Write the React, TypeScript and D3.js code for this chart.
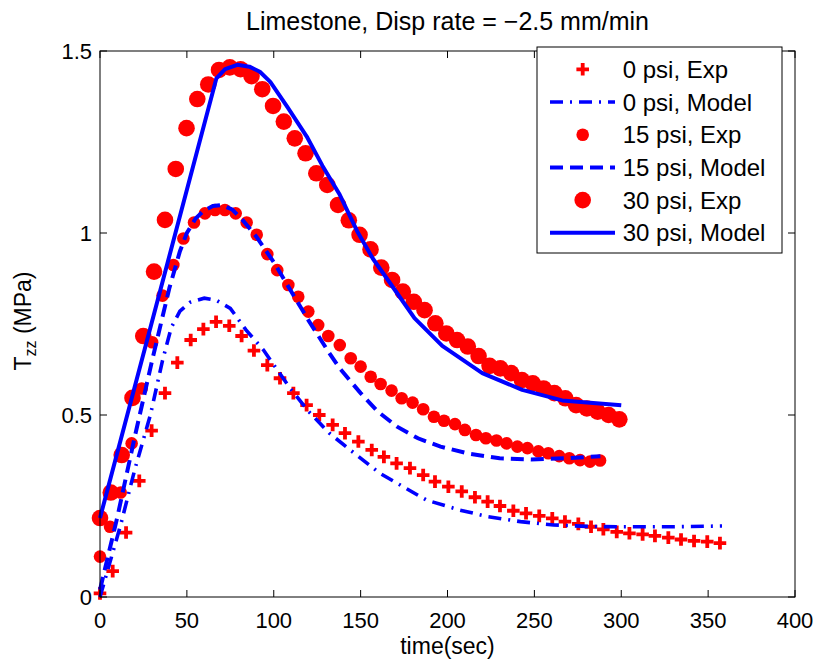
import React from "react";
import * as d3 from "d3";

const exp0T = [0,7.3,15,22.6,29.7,37.4,44.5,52.2,59.5,66.8,74.4,81.5,88.6,96.3,103.6,111.3,118.9,126.2,133.9,141,148.7,156.4,163.4,170.7,178.4,186,192.8,200.5,208.2,215.8,223.1,230.2,237.9,245.2,252.8,260.3,267.6,275.3,282.6,289.7,297.4,304.7,312.3,319.4,327.1,334.4,341.9,349.5,356.8];
const exp0Y = [0.01,0.071,0.177,0.319,0.457,0.56,0.644,0.706,0.736,0.756,0.745,0.717,0.677,0.637,0.601,0.56,0.527,0.5,0.473,0.45,0.427,0.404,0.385,0.367,0.354,0.335,0.317,0.303,0.29,0.274,0.262,0.25,0.237,0.23,0.223,0.216,0.207,0.201,0.193,0.186,0.179,0.175,0.172,0.168,0.163,0.158,0.154,0.152,0.148];

const model0T = [0,12,20,29,36,41,46,52,60,67,75,84,94,102,110,120,132,144,161,188,207,223,242,261,280,299,330,358];
const model0Y = [0,0.2,0.35,0.5,0.65,0.74,0.785,0.81,0.821,0.815,0.793,0.734,0.679,0.624,0.57,0.51,0.45,0.404,0.34,0.266,0.239,0.221,0.207,0.198,0.194,0.193,0.193,0.195];

const exp15T = [0,5.8,11.9,18.2,24,30,36,42.2,48,54.1,60.4,66.2,71.9,78.1,84.4,90.2,96.3,102,108.4,114.1,119.9,125.6,131.4,138,144.3,150,155.8,161.5,167.8,173.6,179.9,186,192.2,198,204.3,210,216.4,222.1,228.2,234,240.2,246,252.3,258,264.3,270.1,276.3,282,287.8];
const exp15Y = [0.111,0.193,0.287,0.422,0.573,0.7,0.828,0.912,0.985,1.029,1.054,1.063,1.063,1.054,1.029,0.995,0.942,0.898,0.857,0.825,0.784,0.747,0.717,0.692,0.656,0.633,0.605,0.585,0.567,0.546,0.534,0.516,0.495,0.484,0.475,0.459,0.445,0.436,0.43,0.422,0.413,0.409,0.4,0.395,0.387,0.381,0.376,0.372,0.375];

const model15T = [0,10,20,30,40,46,50,55,60,65,70,76,82,90,100,110,120,132,138,150,160,171,183,196,213,230,248,267,288];
const model15Y = [0.02,0.22,0.44,0.65,0.85,0.95,1.0,1.04,1.062,1.074,1.077,1.065,1.036,0.99,0.92,0.84,0.76,0.67,0.628,0.56,0.509,0.468,0.436,0.413,0.393,0.381,0.378,0.381,0.387];

const exp30T = [0,6.2,12.5,18.7,24.9,31.1,37.4,43.6,49.8,56,62.3,68.5,74.7,80.9,87.2,93.4,99.6,105.8,112.1,118.3,124.5,130.8,137,143.2,149.4,155.7,161.9,168.1,174.3,180.6,186.8,193,199.3,205.5,211.7,217.9,224.2,230.4,236.6,242.8,249.1,255.3,261.5,267.8,274,280.2,286.4,292.7,298.9];
const exp30Y = [0.217,0.287,0.39,0.547,0.717,0.894,1.036,1.176,1.288,1.368,1.408,1.448,1.455,1.45,1.431,1.395,1.349,1.306,1.26,1.219,1.164,1.132,1.077,1.035,0.995,0.955,0.905,0.871,0.839,0.811,0.788,0.752,0.724,0.706,0.688,0.662,0.635,0.628,0.615,0.596,0.587,0.573,0.56,0.546,0.527,0.518,0.509,0.5,0.488];

const model30T = [0,67,72,79,86,92,98,108,119,128,138,148,157,167,181,197,220,243,266,300];
const model30Y = [0.217,1.425,1.45,1.462,1.457,1.443,1.415,1.345,1.265,1.185,1.105,1.005,0.93,0.862,0.766,0.69,0.615,0.569,0.54,0.527];

const xTicks = [0, 50, 100, 150, 200, 250, 300, 350, 400];
const yTicks = [0, 0.5, 1, 1.5];
const yTickLabels = ["0", "0.5", "1", "1.5"];
const legendLabels = ["0 psi, Exp", "0 psi, Model", "15 psi, Exp", "15 psi, Model", "30 psi, Exp", "30 psi, Model"];

const W = 820, H = 663;
const L = 100, R = 795, T = 51, B = 597;
const FONT = "'Liberation Sans', Arial, Helvetica, sans-serif";
const RED = "#ff0000", BLUE = "#0000ff";

const x = d3.scaleLinear().domain([0, 400]).range([L, R]);
const y = d3.scaleLinear().domain([0, 1.5]).range([B, T]);

const zip = (a: number[], b: number[]) => a.map((v, i) => [v, b[i]] as [number, number]);
const line = d3.line<[number, number]>().x(d => x(d[0])).y(d => y(d[1]));

const DASH = "13,7";
const DASHDOT = "13,7,2,7";

function Cross({ cx, cy }: { cx: number; cy: number }) {
  const s = 6.3;
  return <path d={`M${cx - s},${cy}H${cx + s}M${cx},${cy - s}V${cy + s}`} stroke={RED} strokeWidth={3.8} fill="none" />;
}

export default function App() {
  const lw = 4;
  const legY0 = 69.3, legDy = 32.7;
  return (
    <svg width={W} height={H} style={{ position: "absolute", left: 0, top: 0, background: "#fff" }} fontFamily={FONT}>
      <rect x={0} y={0} width={W} height={H} fill="#fff" />
      <rect x={L} y={T} width={R - L} height={B - T} fill="#fff" stroke="none" />
      <g>
        {zip(exp0T, exp0Y).map((d, i) => <Cross key={"c" + i} cx={x(d[0])} cy={y(d[1])} />)}
        <path d={line(zip(model0T, model0Y)) || ""} fill="none" stroke={BLUE} strokeWidth={lw * 0.9} strokeDasharray={DASHDOT} />
        {zip(exp15T, exp15Y).map((d, i) => <circle key={"m" + i} cx={x(d[0])} cy={y(d[1])} r={6.3} fill={RED} />)}
        <path d={line(zip(model15T, model15Y)) || ""} fill="none" stroke={BLUE} strokeWidth={lw} strokeDasharray={DASH} />
        {zip(exp30T, exp30Y).map((d, i) => <circle key={"b" + i} cx={x(d[0])} cy={y(d[1])} r={8.3} fill={RED} />)}
        <path d={line(zip(model30T, model30Y)) || ""} fill="none" stroke={BLUE} strokeWidth={lw} strokeLinejoin="round" />
      </g>
      <rect x={L} y={T} width={R - L} height={B - T} fill="none" stroke="#000" strokeWidth={1} />
      {xTicks.map(t => (
        <g key={"xt" + t}>
          <line x1={x(t)} x2={x(t)} y1={B} y2={B - 7} stroke="#000" />
          <line x1={x(t)} x2={x(t)} y1={T} y2={T + 7} stroke="#000" />
          <text x={x(t)} y={628} fontSize={22} textAnchor="middle">{t}</text>
        </g>
      ))}
      {yTicks.map((t, i) => (
        <g key={"yt" + t}>
          <line x1={L} x2={L + 7} y1={y(t)} y2={y(t)} stroke="#000" />
          <line x1={R} x2={R - 7} y1={y(t)} y2={y(t)} stroke="#000" />
          <text x={92} y={y(t) + 8} fontSize={22} textAnchor="end">{yTickLabels[i]}</text>
        </g>
      ))}
      <text x={(L + R) / 2} y={30} fontSize={25} textAnchor="middle">Limestone, Disp rate = −2.5 mm/min</text>
      <text x={(L + R) / 2} y={654} fontSize={23} textAnchor="middle">time(sec)</text>
      <text transform={`translate(31,321) rotate(-90)`} fontSize={23} textAnchor="middle">
        T<tspan fontSize={16} dy={5}>zz</tspan><tspan dy={-5}> (MPa)</tspan>
      </text>
      <rect x={537} y={47} width={245} height={206} fill="#fff" stroke="#000" strokeWidth={1} />
      {legendLabels.map((lab, i) => {
        const ly = legY0 + i * legDy;
        let sample: React.ReactNode = null;
        if (i === 0) sample = <Cross cx={582.7} cy={ly} />;
        if (i === 2) sample = <circle cx={582.7} cy={ly} r={6.3} fill={RED} />;
        if (i === 4) sample = <circle cx={582.7} cy={ly} r={8.3} fill={RED} />;
        if (i === 1) sample = <line x1={550} x2={615} y1={ly} y2={ly} stroke={BLUE} strokeWidth={lw * 0.9} strokeDasharray={DASHDOT} />;
        if (i === 3) sample = <line x1={550} x2={615} y1={ly} y2={ly} stroke={BLUE} strokeWidth={lw} strokeDasharray={DASH} />;
        if (i === 5) sample = <line x1={550} x2={615} y1={ly} y2={ly} stroke={BLUE} strokeWidth={lw} />;
        return (
          <g key={"lg" + i}>
            {sample}
            <text x={622.7} y={ly + 8.5} fontSize={24}>{lab}</text>
          </g>
        );
      })}
    </svg>
  );
}
